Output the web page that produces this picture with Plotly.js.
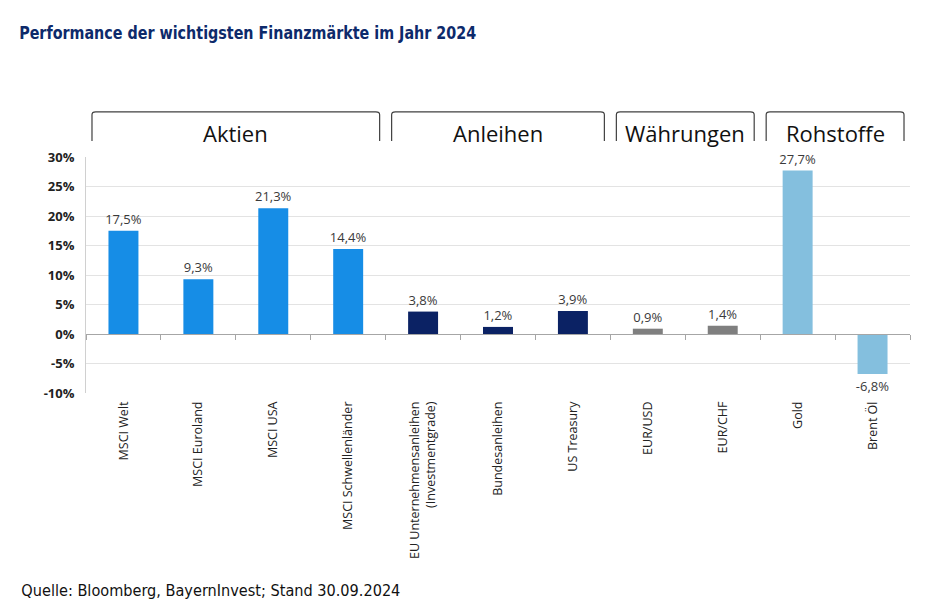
<!DOCTYPE html>
<html>
<head>
<meta charset="utf-8">
<script src="https://cdn.plot.ly/plotly-3.0.1.min.js"></script>
<style>html,body{margin:0;padding:0;background:#fff;}#chart{width:930px;height:616px;}</style>
</head>
<body>
<div id="chart"></div>
<script>
// ---- data ----
const categories = ["MSCI Welt", "MSCI Euroland", "MSCI USA", "MSCI Schwellenländer",
  "EU Unternehmensanleihen<br>(Investmentgrade)", "Bundesanleihen", "US Treasury",
  "EUR/USD", "EUR/CHF", "Gold", "Brent Öl"];
const values = [17.5, 9.3, 21.3, 14.4, 3.8, 1.2, 3.9, 0.9, 1.4, 27.7, -6.8];
const groupOf = ["Aktien","Aktien","Aktien","Aktien","Anleihen","Anleihen","Anleihen",
  "Währungen","Währungen","Rohstoffe","Rohstoffe"];
const groupNames = ["Aktien", "Anleihen", "Währungen", "Rohstoffe"];
const groupColors = {"Aktien":"#168de6", "Anleihen":"#0b2264", "Währungen":"#7f7f7f", "Rohstoffe":"#84bfde"};
const yTickVals = [-10, -5, 0, 5, 10, 15, 20, 25, 30];
const yTickLabels = ["-10%", "-5%", "0%", "5%", "10%", "15%", "20%", "25%", "30%"];
const titleText = "Performance der wichtigsten Finanzmärkte im Jahr 2024";
const sourceText = "Quelle: Bloomberg, BayernInvest; Stand 30.09.2024";

// ---- build ----
const labels = values.map(v => v.toFixed(1).replace('.', ',') + '%');
const colors = groupOf.map(g => groupColors[g]);
const idx = categories.map((c, i) => i);

const trace = {
  type: 'bar', x: idx, y: values, width: 0.4,
  marker: {color: colors},
  text: labels, textposition: 'outside', cliponaxis: false, constraintext: 'none',
  textfont: {family: 'Open Sans, sans-serif', size: 13, color: '#3a3a3a'},
  hoverinfo: 'skip'
};

const shapes = [];
const annotations = [];
const yTop = 1.191, yBot = 1.068, r = 0.012;
groupNames.forEach(g => {
  const first = groupOf.indexOf(g), last = groupOf.lastIndexOf(g);
  const x0 = first - 0.5 + 0.08, x1 = last + 0.5 - 0.08;
  shapes.push({type: 'path', xref: 'x', yref: 'paper',
    path: `M ${x0},${yBot} L ${x0},${yTop - r} Q ${x0},${yTop} ${x0 + 0.05},${yTop} L ${x1 - 0.05},${yTop} Q ${x1},${yTop} ${x1},${yTop - r} L ${x1},${yBot}`,
    line: {color: '#404040', width: 1.2}});
  annotations.push({xref: 'x', yref: 'paper', x: (first + last) / 2, y: 1.1,
    text: g, showarrow: false, yanchor: 'middle',
    font: {family: 'Open Sans, sans-serif', size: 22, color: '#111'}});
});
annotations.push({xref: 'paper', yref: 'paper', x: 0.1965, y: 1.526, xanchor: 'center', yanchor: 'middle',
  text: '<b>' + titleText + '</b>', showarrow: false,
  font: {family: 'DejaVu Sans Condensed, sans-serif', size: 18.5, color: '#0d2a6b'}});
annotations.push({xref: 'paper', yref: 'paper', x: 0.1511, y: -0.837, xanchor: 'center', yanchor: 'middle',
  text: sourceText, showarrow: false,
  font: {family: 'DejaVu Sans Condensed, sans-serif', size: 16.5, color: '#111'}});

const layout = {
  width: 930, height: 616,
  margin: {l: 86, r: 20, t: 157, b: 223.3},
  paper_bgcolor: '#fff', plot_bgcolor: '#fff',
  showlegend: false,
  bargap: 0.6,
  xaxis: {
    type: 'linear', range: [-0.5, categories.length - 0.5],
    tickmode: 'array', tickvals: idx, ticktext: categories,
    tickangle: -90, ticks: '', showgrid: false, zeroline: false, showline: false,
    tickfont: {family: 'Open Sans, sans-serif', size: 12.5, color: '#222'},
    ticklabelstandoff: 5
  },
  xaxis2: {
    overlaying: 'x', anchor: 'free', position: 0.25, type: 'linear',
    range: [-0.5, categories.length - 0.5], tick0: -0.5, dtick: 1,
    ticks: 'outside', ticklen: 5, tickcolor: '#a6a6a6', tickwidth: 1,
    showticklabels: false, showgrid: false, zeroline: false,
    showline: true, linecolor: '#a6a6a6', linewidth: 1
  },
  yaxis: {
    range: [-10, 30], tickmode: 'array', tickvals: yTickVals, ticktext: yTickLabels,
    showgrid: true, gridcolor: '#e3e3e3', gridwidth: 1, zeroline: false,
    showline: true, linecolor: '#d0d0d0', ticks: '',
    tickfont: {family: 'Open Sans, sans-serif', size: 13, color: '#222', weight: 'bold'},
    ticklabelstandoff: 8
  },
  shapes: shapes,
  annotations: annotations
};

Plotly.newPlot('chart', [trace, {type: 'scatter', x: [], y: [], xaxis: 'x2', showlegend: false}], layout, {displayModeBar: false, staticPlot: true})
.then(() => {
  const texts = document.querySelectorAll('.annotation-text');
  texts.forEach(t => {
    const s = t.textContent;
    if (s === titleText) { t.setAttribute('textLength', 457); t.setAttribute('lengthAdjust', 'spacingAndGlyphs'); }
    if (s === sourceText) { t.setAttribute('textLength', 379); t.setAttribute('lengthAdjust', 'spacingAndGlyphs'); }
  });
});
</script>
</body>
</html>
